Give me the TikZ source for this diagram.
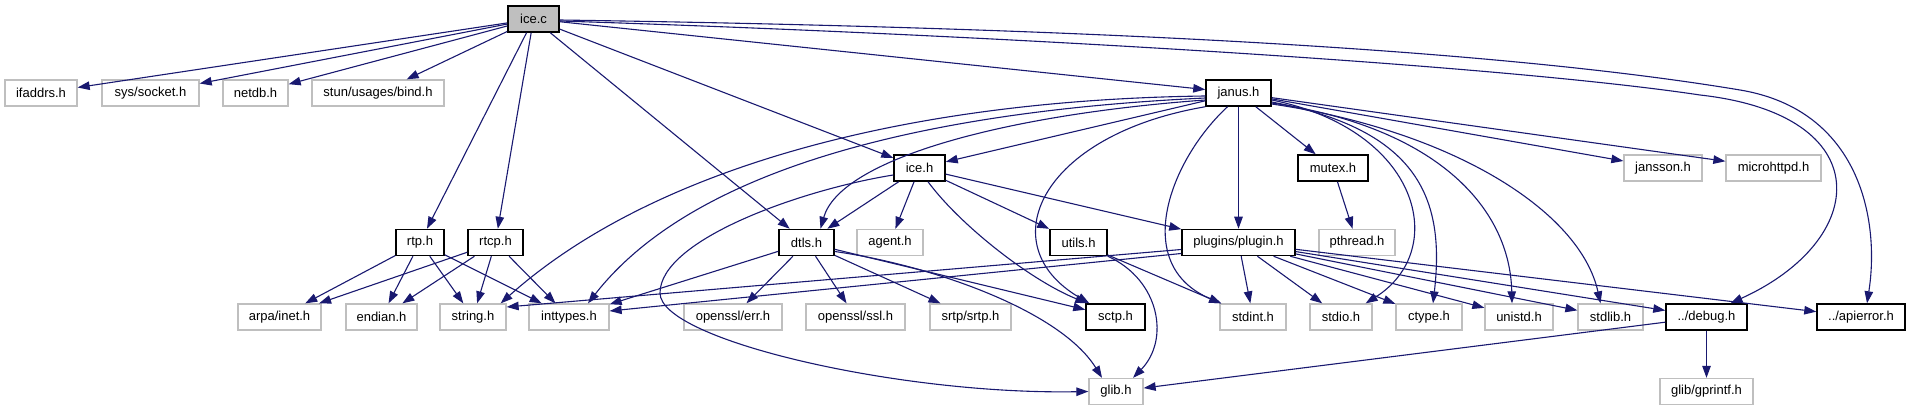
\documentclass[tikz,border=0pt]{standalone}
\usepackage{fontspec}
\setmainfont{Liberation Sans}
\usetikzlibrary{arrows.meta,calc}
\definecolor{edgec}{HTML}{191970}
\definecolor{grayb}{HTML}{BFBFBF}
\begin{document}
\begin{tikzpicture}[x=1pt,y=-1pt,
  box/.style={rectangle, inner sep=0pt, minimum height=26pt, font=\fontsize{13}{15}\selectfont, text=black},
  ext/.style={box, draw=grayb, line width=1.3pt, fill=white},
  proj/.style={box, draw=black, line width=1.5pt, fill=white},
  root/.style={box, draw=black, line width=1.5pt, fill=grayb},
  e/.style={draw=edgec, line width=1.1pt, -{Triangle[length=12pt,width=8.5pt]}},
]
\useasboundingbox (0,0) rectangle (1911,411);
% row 0
\node[root, minimum width=51pt] (ice_c) at (533.5,19) {ice.c};
% row 1
\node[ext, minimum width=72pt] (ifaddrs) at (41,93) {ifaddrs.h};
\node[ext, minimum width=97pt] (syssocket) at (150.5,93) {sys/socket.h};
\node[ext, minimum width=65pt] (netdb) at (255.5,93) {netdb.h};
\node[ext, minimum width=132pt] (stunbind) at (378,93) {stun/usages/bind.h};
\node[proj, minimum width=65pt] (janus) at (1238.5,93) {janus.h};
% row 2
\node[proj, minimum width=51pt] (iceh) at (919.5,168) {ice.h};
\node[proj, minimum width=70pt] (mutex) at (1333,168) {mutex.h};
\node[ext, minimum width=78pt] (jansson) at (1663,168) {jansson.h};
\node[ext, minimum width=95pt] (microhttpd) at (1773.5,168) {microhttpd.h};
% row 3
\node[proj, minimum width=48pt] (rtp) at (420,242.5) {rtp.h};
\node[proj, minimum width=55pt] (rtcp) at (495.5,242.5) {rtcp.h};
\node[proj, minimum width=55pt] (dtls) at (806.5,242.5) {dtls.h};
\node[ext, minimum width=66pt] (agent) at (890,242.5) {agent.h};
\node[proj, minimum width=57pt] (utils) at (1078.5,242.5) {utils.h};
\node[proj, minimum width=113pt] (plugin) at (1238.5,242.5) {plugins/plugin.h};
\node[ext, minimum width=76pt] (pthread) at (1357,242.5) {pthread.h};
% row 4
\node[ext, minimum width=83pt] (arpainet) at (279.5,317) {arpa/inet.h};
\node[ext, minimum width=71pt] (endian) at (381.5,317) {endian.h};
\node[ext, minimum width=66pt] (string) at (473,317) {string.h};
\node[ext, minimum width=80pt] (inttypes) at (569,317) {inttypes.h};
\node[ext, minimum width=98pt] (opensslerr) at (733,317) {openssl/err.h};
\node[ext, minimum width=99pt] (opensslssl) at (855.5,317) {openssl/ssl.h};
\node[ext, minimum width=81pt] (srtp) at (970.5,317) {srtp/srtp.h};
\node[proj, minimum width=59pt] (sctp) at (1115.5,317) {sctp.h};
\node[ext, minimum width=66pt] (stdint) at (1253,317) {stdint.h};
\node[ext, minimum width=62pt] (stdio) at (1341,317) {stdio.h};
\node[ext, minimum width=66pt] (ctype) at (1429,317) {ctype.h};
\node[ext, minimum width=68pt] (unistd) at (1519,317) {unistd.h};
\node[ext, minimum width=65pt] (stdlib) at (1610.5,317) {stdlib.h};
\node[proj, minimum width=81pt] (debug) at (1706.5,317) {../debug.h};
\node[proj, minimum width=88pt] (apierror) at (1861,317) {../apierror.h};
% row 5
\node[ext, minimum width=54pt] (glib) at (1116,391.5) {glib.h};
\node[ext, minimum width=93pt] (gprintf) at (1706.5,391.5) {glib/gprintf.h};

% ice.c edges
\draw[e] (ice_c) -- (ifaddrs);
\draw[e] (ice_c) -- (syssocket);
\draw[e] (ice_c) -- (netdb);
\draw[e] (ice_c) -- (stunbind);
\draw[e] (ice_c) -- (rtp);
\draw[e] (ice_c) -- (rtcp);
\draw[e] (ice_c) -- (dtls);
\draw[e] (ice_c) -- (iceh);
\draw[e] (ice_c) -- (janus);
\draw[e] ($(ice_c.east)+(0,2)$) .. controls (1000,35) and (1500,65) .. (1700,95) .. controls (1880,115) and (1870,240) .. ($(debug.north)+(24,0)$);
\draw[e] ($(ice_c.east)+(0,1)$) .. controls (1100,28) and (1500,50) .. (1740,90) .. controls (1860,110) and (1880,220) .. ($(apierror.north)+(6,0)$);
% janus.h edges
\draw[e] (janus) -- (mutex);
\draw[e] (janus) -- (plugin);
\draw[e] (janus) -- (jansson);
\draw[e] (janus) -- (microhttpd);
\draw[e] (janus) -- (iceh);
\draw[e] ($(janus.west)+(0,7)$) .. controls (1000,115) and (840,160) .. ($(dtls.north)+(14,0)$);
\draw[e] ($(janus.west)+(0,5)$) .. controls (950,110) and (700,160) .. ($(inttypes.north)+(19,0)$);
\draw[e] ($(janus.west)+(0,3)$) .. controls (900,100) and (650,170) .. ($(string.north east)+(-6,0)$);
\draw[e] (janus.south west) .. controls (1040,135) and (990,245) .. ($(sctp.north west)+(4,0)$);
\draw[e] ($(janus.south)+(-11,0)$) .. controls (1170,160) and (1130,265) .. ($(stdint.north west)+(2,0)$);
\draw[e] ($(janus.east)+(0,7)$) .. controls (1420,130) and (1450,250) .. ($(stdio.north east)+(-7,0)$);
\draw[e] ($(janus.east)+(0,9)$) .. controls (1420,130) and (1445,200) .. ($(ctype.north)+(4,0)$);
\draw[e] ($(janus.east)+(0,10)$) .. controls (1440,128) and (1510,210) .. ($(unistd.north)+(-7,0)$);
\draw[e] ($(janus.east)+(0,11)$) .. controls (1450,130) and (1580,210) .. ($(stdlib.north)+(-10,0)$);
% ice.h edges
\draw[e] (iceh) -- (dtls);
\draw[e] (iceh) -- (agent);
\draw[e] (iceh) -- (utils);
\draw[e] (iceh) -- (plugin);
\draw[e] ($(iceh.south)+(8.5,0)$) .. controls (960,225) and (1030,280) .. ($(sctp.north west)+(2,0)$);
\draw[e] ($(iceh.west)+(0,7)$) .. controls (800,190) and (660,240) .. (660,293) .. controls (660,340) and (900,395) .. (glib.west);
% dtls.h edges
\draw[e] (dtls) -- (inttypes);
\draw[e] (dtls) -- (opensslerr);
\draw[e] (dtls) -- (opensslssl);
\draw[e] (dtls) -- (srtp);
\draw[e] (dtls) -- (sctp);
\draw[e] ($(dtls.east)+(0,9)$) .. controls (930,265) and (1060,310) .. ($(glib.north)+(-14,0)$);
% utils.h edges
\draw[e] (utils) -- (stdint);
\draw[e] (utils.south east) .. controls (1160,280) and (1170,340) .. ($(glib.north)+(17,0)$);
% plugin.h edges
\draw[e] ($(plugin.west)+(0,7)$) -- ($(string.east)+(0,-10)$);
\draw[e] ($(plugin.west)+(0,11)$) -- ($(inttypes.east)+(0,-6)$);
\draw[e] (plugin) -- (stdint);
\draw[e] (plugin) -- (stdio);
\draw[e] (plugin) -- (ctype);
\draw[e] (plugin) -- (unistd);
\draw[e] (plugin) -- (stdlib);
\draw[e] (plugin) -- (debug);
\draw[e] (plugin) -- (apierror);
% debug.h edges
\draw[e] (debug) -- (gprintf);
\draw[e] (debug) -- (glib);
% mutex.h
\draw[e] (mutex) -- (pthread);
% rtp.h / rtcp.h
\draw[e] (rtp) -- (arpainet);
\draw[e] (rtp) -- (endian);
\draw[e] (rtp) -- (string);
\draw[e] (rtp) -- (inttypes);
\draw[e] (rtcp) -- (arpainet);
\draw[e] (rtcp) -- (endian);
\draw[e] (rtcp) -- (string);
\draw[e] (rtcp) -- (inttypes);
\end{tikzpicture}
\end{document}
